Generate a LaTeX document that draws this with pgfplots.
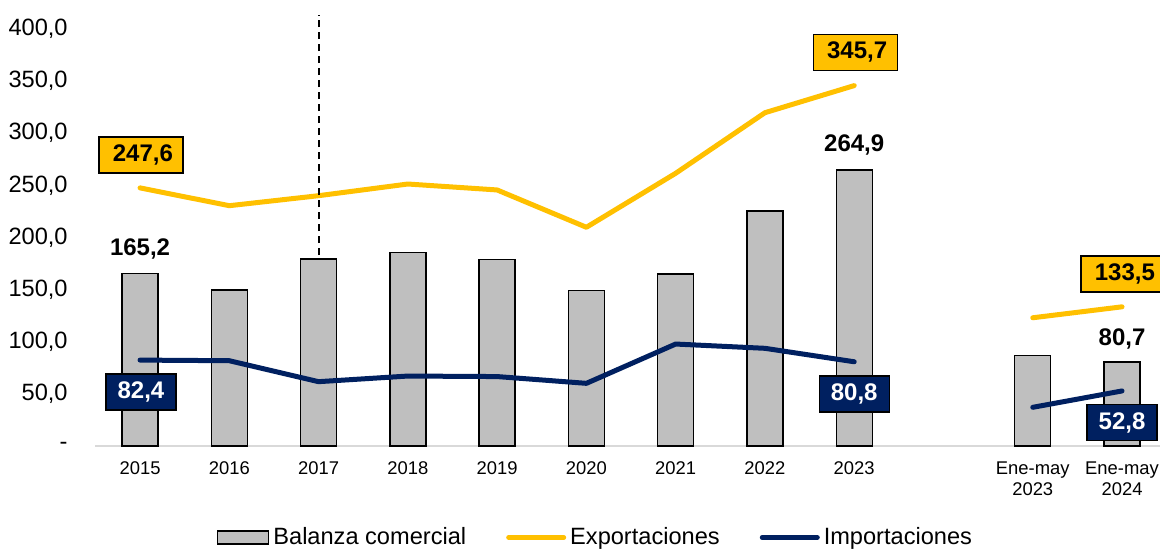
\documentclass[border=0pt]{standalone}
\usepackage{fontspec}
\setmainfont{Liberation Sans}
\usepackage{pgfplots}
\pgfplotsset{compat=1.18}
\definecolor{expo}{HTML}{FFC000}
\definecolor{impo}{HTML}{002060}
\definecolor{barg}{HTML}{BFBFBF}
\definecolor{axg}{HTML}{D9D9D9}
\pgfplotsset{
  barlegend/.style={legend image code/.code={\draw[##1] (0pt,-3.25pt) rectangle (25.5pt,3.25pt);}},
  linelegend/.style={legend image code/.code={\draw[##1] (0pt,0pt) -- (27.5pt,0pt);}},
}
\begin{document}
\begin{tikzpicture}
\begin{axis}[
  at={(0,0)}, anchor=south west,
  scale only axis, width=532.5pt, height=208.5pt,
  xmin=-0.5, xmax=11.43, ymin=0, ymax=400,
  clip=false,
  axis lines*=left,
  x axis line style={draw=axg, line width=1pt},
  y axis line style={draw=none},
  tick style={draw=none},
  xtick={0,1,2,3,4,5,6,7,8,10,11},
  xticklabels={2015,2016,2017,2018,2019,2020,2021,2022,2023,{Ene-may\\2023},{Ene-may\\2024}},
  xticklabel style={align=center, inner sep=0pt, anchor=north, yshift=-7.8pt, font=\fontsize{9.2}{10.5}\selectfont},
  ytick={0,50,100,150,200,250,300,350,400},
  yticklabels={-,{50,0},{100,0},{150,0},{200,0},{250,0},{300,0},{350,0},{400,0}},
  yticklabel style={inner sep=0pt, anchor=east, xshift=-13.7pt, font=\fontsize{11.8}{14}\selectfont},
  unbounded coords=jump,
  legend style={at={(0.4705,-0.2194)}, anchor=center, draw=none, fill=none,
    legend columns=3, font=\fontsize{11.8}{14}\selectfont,
    /tikz/every even column/.append style={column sep=18pt}},
]
\addplot[ybar, bar width=18pt, fill=barg, draw=black, line width=0.7pt, barlegend]
  coordinates {(0,165.2) (1,149.6) (2,179.4) (3,185.4) (4,179.1) (5,149.3) (6,165.0) (7,225.4) (8,264.9) (10,86.6) (11,80.7)};
\addlegendentry{Balanza comercial}
\addplot[expo, line width=2.5pt, line cap=round, line join=round, linelegend]
  coordinates {(0,247.6) (1,230.5) (2,240.1) (3,251.3) (4,245.6) (5,209.8) (6,261.6) (7,319.7) (8,345.7) (9,nan) (10,123.0) (11,133.5)};
\addlegendentry{Exportaciones}
\addplot[impo, line width=2.5pt, line cap=round, line join=round, linelegend]
  coordinates {(0,82.4) (1,81.8) (2,61.7) (3,67.1) (4,66.6) (5,60.1) (6,97.8) (7,93.7) (8,80.8) (9,nan) (10,37.1) (11,52.8)};
\addlegendentry{Importaciones}
\addplot[forget plot, black, line width=1pt, dash pattern=on 3.5pt off 2.5pt]
  coordinates {(2,183) (2,413.4)};
% labels
\node[font=\fontsize{12}{14}\selectfont\bfseries, text height=8.6pt, text depth=0pt, inner sep=0pt] at (axis cs:0,191) {165,2};
\node[font=\fontsize{12}{14}\selectfont\bfseries, text height=8.6pt, text depth=0pt, inner sep=0pt] at (axis cs:8,290.8) {264,9};
\node[font=\fontsize{12}{14}\selectfont\bfseries, text height=8.6pt, text depth=0pt, inner sep=0pt] at (axis cs:11,105) {80,7};
\node[fill=expo, draw=black, line width=0.6pt, minimum width=42pt, minimum height=18pt, inner sep=0pt, font=\fontsize{12}{14}\selectfont\bfseries] at (axis cs:0.01,279.1) {\hspace{2pt}247,6};
\node[fill=expo, draw=black, line width=0.6pt, minimum width=42pt, minimum height=18pt, inner sep=0pt, font=\fontsize{12}{14}\selectfont\bfseries] at (axis cs:8.01,377.5) {\hspace{2pt}345,7};
\node[fill=expo, draw=black, line width=0.6pt, minimum width=42pt, minimum height=18pt, inner sep=0pt, font=\fontsize{12}{14}\selectfont\bfseries] at (axis cs:11.01,165) {\hspace{2pt}133,5};
\node[fill=impo, draw=black, line width=0.6pt, minimum width=35pt, minimum height=18pt, inner sep=0pt, text=white, font=\fontsize{12}{14}\selectfont\bfseries] at (axis cs:0.01,51.8) {82,4};
\node[fill=impo, draw=black, line width=0.6pt, minimum width=35pt, minimum height=18pt, inner sep=0pt, text=white, font=\fontsize{12}{14}\selectfont\bfseries] at (axis cs:8.0,49.9) {80,8};
\node[fill=impo, draw=black, line width=0.6pt, minimum width=35pt, minimum height=18pt, inner sep=0pt, text=white, font=\fontsize{12}{14}\selectfont\bfseries] at (axis cs:11.0,22.5) {52,8};
\end{axis}
\pgfresetboundingbox
\path[use as bounding box] (-47.7pt,-51.5pt) rectangle (532.3pt,223pt);
\end{tikzpicture}
\end{document}
